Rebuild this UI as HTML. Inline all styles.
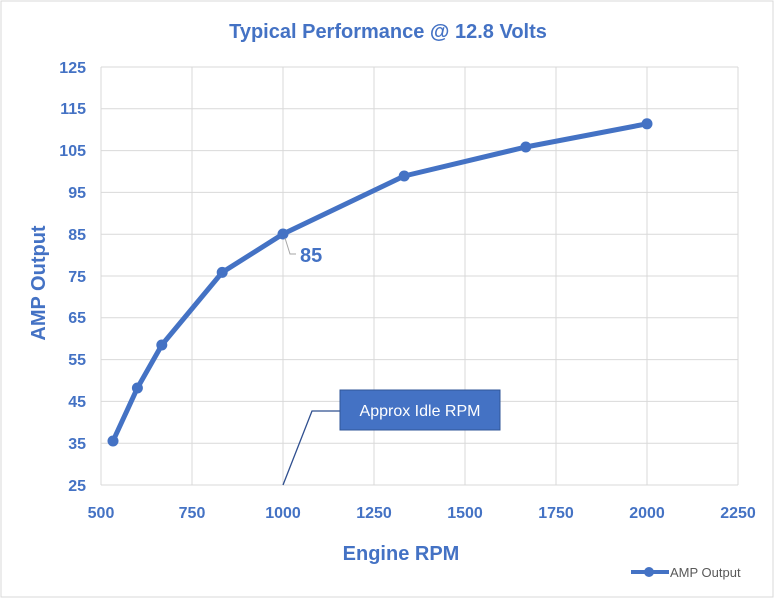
<!DOCTYPE html>
<html><head><style>
html,body{margin:0;padding:0;background:#fff;}
svg{display:block;font-family:"Liberation Sans",sans-serif;}
</style></head><body>
<svg width="776" height="600" viewBox="0 0 776 600">
<rect x="1" y="1" width="772" height="596" fill="#fff" stroke="#d9d9d9" stroke-width="1"/>
<text x="388" y="38" text-anchor="middle" font-size="20" font-weight="bold" fill="#4472c4">Typical Performance @ 12.8 Volts</text>
<g stroke="#d9d9d9" stroke-width="1">
<line x1="101" y1="67" x2="738" y2="67"/><line x1="101" y1="108.8" x2="738" y2="108.8"/><line x1="101" y1="150.6" x2="738" y2="150.6"/><line x1="101" y1="192.4" x2="738" y2="192.4"/><line x1="101" y1="234.2" x2="738" y2="234.2"/><line x1="101" y1="276" x2="738" y2="276"/><line x1="101" y1="317.8" x2="738" y2="317.8"/><line x1="101" y1="359.6" x2="738" y2="359.6"/><line x1="101" y1="401.4" x2="738" y2="401.4"/><line x1="101" y1="443.2" x2="738" y2="443.2"/><line x1="101" y1="485" x2="738" y2="485"/>
<line x1="101" y1="67" x2="101" y2="485"/><line x1="192" y1="67" x2="192" y2="485"/><line x1="283" y1="67" x2="283" y2="485"/><line x1="374" y1="67" x2="374" y2="485"/><line x1="465" y1="67" x2="465" y2="485"/><line x1="556" y1="67" x2="556" y2="485"/><line x1="647" y1="67" x2="647" y2="485"/><line x1="738" y1="67" x2="738" y2="485"/>
</g>
<g font-size="16" font-weight="bold" fill="#4472c4" text-anchor="end">
<text x="86" y="73">125</text><text x="86" y="114">115</text><text x="86" y="156">105</text><text x="86" y="198">95</text><text x="86" y="240">85</text><text x="86" y="282">75</text><text x="86" y="323">65</text><text x="86" y="365">55</text><text x="86" y="407">45</text><text x="86" y="449">35</text><text x="86" y="491">25</text>
</g>
<g font-size="16" font-weight="bold" fill="#4472c4" text-anchor="middle">
<text x="101" y="518">500</text><text x="192" y="518">750</text><text x="283" y="518">1000</text><text x="374" y="518">1250</text><text x="465" y="518">1500</text><text x="556" y="518">1750</text><text x="647" y="518">2000</text><text x="738" y="518">2250</text>
</g>
<text x="401" y="560" text-anchor="middle" font-size="20" font-weight="bold" fill="#4472c4">Engine RPM</text>
<text transform="translate(45,283) rotate(-90)" text-anchor="middle" font-size="20" font-weight="bold" fill="#4472c4">AMP Output</text>
<polyline fill="none" stroke="#4472c4" stroke-width="5" stroke-linejoin="round" points="113,441 137.4,388 161.8,345 222.2,272.4 283,234 404.2,176 525.8,147 647,123.8"/>
<g fill="#4472c4">
<circle cx="113" cy="441" r="5.5"/><circle cx="137.4" cy="388" r="5.5"/><circle cx="161.8" cy="345" r="5.5"/><circle cx="222.2" cy="272.4" r="5.5"/><circle cx="283" cy="234" r="5.5"/><circle cx="404.2" cy="176" r="5.5"/><circle cx="525.8" cy="147" r="5.5"/><circle cx="647" cy="123.8" r="5.5"/>
</g>
<polyline fill="none" stroke="#a6a6a6" stroke-width="1" points="285,238 290,254 296,254"/>
<text x="300" y="262" font-size="20" font-weight="bold" fill="#4472c4">85</text>
<polyline fill="none" stroke="#2f4f8f" stroke-width="1.3" points="283,485 312,411 340,411"/>
<rect x="340" y="390" width="160" height="40" fill="#4472c4" stroke="#2f5597" stroke-width="1"/>
<text x="420" y="416" text-anchor="middle" font-size="16" fill="#fff">Approx Idle RPM</text>
<line x1="631" y1="572" x2="669" y2="572" stroke="#4472c4" stroke-width="4"/>
<circle cx="649" cy="572" r="5" fill="#4472c4"/>
<text x="670" y="577" font-size="13" fill="#595959">AMP Output</text>
</svg>
</body></html>
